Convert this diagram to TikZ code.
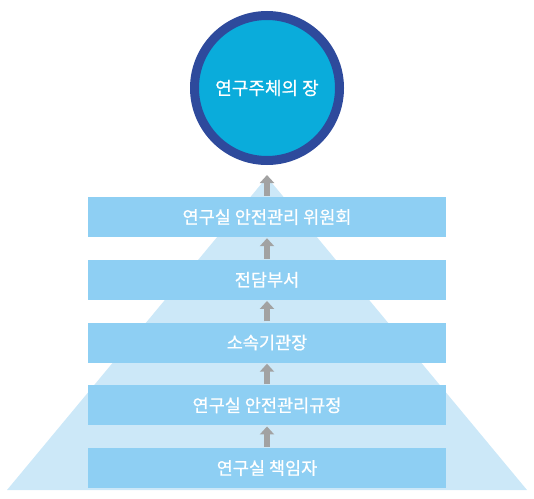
\documentclass[tikz,border=0pt]{standalone}
\usepackage{fontspec}
\newfontfamily\krfont[FakeBold=0.8]{Noto Sans CJK KR}
\usetikzlibrary{arrows.meta}
\definecolor{ringblue}{HTML}{2E4A9C}
\definecolor{discblue}{HTML}{0AACDB}
\definecolor{boxblue}{HTML}{8ECFF3}
\definecolor{pyramidblue}{HTML}{CCE8F8}
\definecolor{arrowgray}{HTML}{A2A2A2}
\tikzset{
  level/.style={fill=boxblue, minimum width=358pt, minimum height=40pt,
    inner sep=0pt, text=white, font=\krfont\fontsize{17.5}{20}\selectfont},
  upward/.style={draw=arrowgray, line width=6pt,
    -{Triangle[width=14pt,length=8pt]}, shorten <=1pt, shorten >=1pt}
}

\begin{document}
\begin{tikzpicture}[x=1pt,y=-1pt]
\useasboundingbox (0,0) rectangle (534,498);

% pyramid behind the levels
\fill[pyramidblue] (267,177) -- (527,490) -- (7,490) -- cycle;

% goal on top
\node[circle, draw=ringblue, line width=9pt, fill=discblue, minimum size=145pt,
  text=white, font=\krfont\fontsize{18}{20}\selectfont] (goal) at (267,88) {연구주체의 장};

% levels, top to bottom
\foreach \name/\ypos/\txt in {
    lv1/217/{연구실 안전관리 위원회},
    lv2/279.75/{전담부서},
    lv3/342.5/{소속기관장},
    lv4/405.25/{연구실 안전관리규정},
    lv5/468/{연구실 책임자}} {
  \node[level] (\name) at (267,\ypos) {\txt};
}

\foreach \lo/\hi in {lv5/lv4,lv4/lv3,lv3/lv2,lv2/lv1} {
  \draw[upward] (\lo.north) -- (\hi.south);
}
\draw[upward, shorten >=10pt] (lv1.north) -- (goal.south);
\end{tikzpicture}
\end{document}
